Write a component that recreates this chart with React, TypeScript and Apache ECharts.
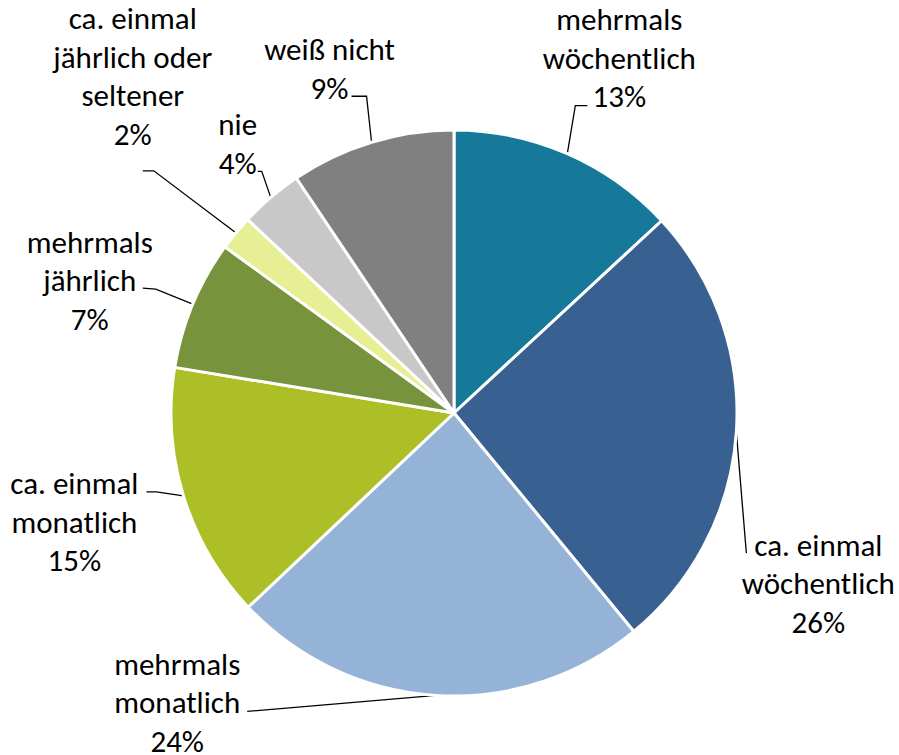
import React, { useEffect, useRef } from "react";
import * as echarts from "echarts";

const categories = [
  "mehrmals\nwöchentlich",
  "ca. einmal\nwöchentlich",
  "mehrmals\nmonatlich",
  "ca. einmal\nmonatlich",
  "mehrmals\njährlich",
  "ca. einmal\njährlich oder\nseltener",
  "nie",
  "weiß nicht",
];
const values = [13.1, 25.9, 23.9, 14.6, 7.4, 2.0, 3.6, 9.4];
const colors = ["#17799A", "#386192", "#95B3D7", "#ADBF27", "#77933C", "#E6EF94", "#C8C8C8", "#808080"];

// Leader-line / label placement, relative to the slice anchor computed by ECharts:
// [elbow dx, elbow dy, end dx, end dy, label-centre dx, label-centre dy]
const labelOffsets = [
  [8, -48, 20, -48, 52, -96],
  [10, 121, 10, 121, 82, 151],
  [-189, 16, -189, 16, -259, 7],
  [-27, -4, -37, -4, -109, 26],
  [-37, -15, -50, -16, -103, -24],
  [-82, -62, -93, -62, -103, -157],
  [-9, -26, -13, -26, -33, -54],
  [-5, -46, -20, -46, -42, -74],
];

export default function App() {
  const ref = useRef<HTMLDivElement>(null);
  useEffect(() => {
    if (!ref.current) return;
    const chart = echarts.init(ref.current, undefined, { renderer: "svg" });
    chart.setOption({
      animation: false,
      backgroundColor: "#ffffff",
      series: [
        {
          type: "pie",
          center: [454, 413],
          radius: 283,
          startAngle: 90,
          clockwise: true,
          avoidLabelOverlap: false,
          data: categories.map((name, i) => ({
            name,
            value: values[i],
            itemStyle: { color: colors[i] },
          })),
          itemStyle: { borderColor: "#ffffff", borderWidth: 3 },
          label: {
            show: true,
            position: "outside",
            formatter: (p: any) => `${p.name}\n${Math.round(p.value)}%`,
            fontFamily: "Carlito, Calibri, Lato, sans-serif",
            fontSize: 31,
            lineHeight: 38.5,
            color: "#000000",
          },
          labelLine: {
            show: true,
            length: 20,
            length2: 10,
            lineStyle: { color: "#000000", width: 1.3 },
          },
          labelLayout: (p: any) => {
            const o = labelOffsets[p.dataIndex];
            const a = p.labelLinePoints[0];
            return {
              x: a[0] + o[4],
              y: a[1] + o[5],
              align: "center",
              verticalAlign: "middle",
              labelLinePoints: [
                [a[0], a[1]],
                [a[0] + o[0], a[1] + o[1]],
                [a[0] + o[2], a[1] + o[3]],
              ],
            };
          },
          emphasis: { disabled: true },
        },
      ],
    });
    return () => chart.dispose();
  }, []);
  return (
    <div
      ref={ref}
      style={{ position: "fixed", left: 0, top: 0, width: 899, height: 755 }}
    />
  );
}
